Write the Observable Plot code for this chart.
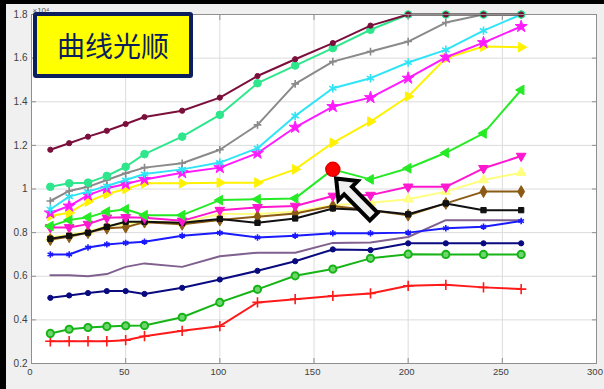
<!DOCTYPE html>
<html>
<head>
<meta charset="utf-8">
<script src="https://cdn.jsdelivr.net/npm/d3@7"></script>
<script src="https://cdn.jsdelivr.net/npm/@observablehq/plot@0.6"></script>
<style>
  html, body { margin: 0; padding: 0; background: #f0f0f0; }
  #fig { position: relative; width: 604px; height: 389px; overflow: hidden; background: #f0f0f0; }
  #fig svg { position: absolute; left: 0; top: 0; }
  .edge-top { position: absolute; left: 0; top: 0; width: 604px; height: 4px; background: #000; }
  .edge-left { position: absolute; left: 0; top: 0; width: 6px; height: 389px; background: #000; }
  .badge {
    position: absolute; left: 33px; top: 12px; width: 152px; height: 58px;
    background: #ffff00; border: 4px solid #0c1f5c; border-radius: 3px;
    display: flex; align-items: center; justify-content: center;
    font-family: "Noto Sans CJK SC", sans-serif; font-size: 28px; color: #0c1f5c;
  }
</style>
</head>
<body>
<div id="fig"></div>
<script>
// sample positions along the x axis
const xs = [10, 20, 30, 40, 50, 60, 80, 100, 120, 140, 160, 180, 200, 220, 240, 260];

// curves (values in units of 10^4)
const wine        = [1.18, 1.21, 1.24, 1.267, 1.298, 1.33, 1.359, 1.419, 1.518, 1.595, 1.669, 1.749, 1.80, 1.80, 1.80, 1.80];
const spring      = [1.01, 1.026, 1.029, 1.06, 1.102, 1.16, 1.24, 1.34, 1.485, 1.566, 1.646, 1.73, 1.80, 1.80, 1.80, 1.80];
const grey        = [0.945, 0.991, 1.01, 1.041, 1.072, 1.098, 1.118, 1.18, 1.294, 1.482, 1.584, 1.63, 1.676, 1.763, 1.80, 1.80];
const cyan        = [0.907, 0.965, 0.988, 1.014, 1.041, 1.069, 1.09, 1.121, 1.187, 1.335, 1.462, 1.508, 1.58, 1.638, 1.726, 1.80];
const magentaStar = [0.89, 0.922, 0.972, 1.003, 1.023, 1.044, 1.075, 1.098, 1.164, 1.283, 1.378, 1.419, 1.508, 1.604, 1.671, 1.745];
const yellowRight = [0.876, 0.891, 0.942, 0.977, 1.0, 1.026, 1.026, 1.029, 1.029, 1.09, 1.212, 1.309, 1.424, 1.60, 1.653, 1.65];
const greenLeft   = [0.83, 0.858, 0.87, 0.896, 0.907, 0.88, 0.88, 0.949, 0.953, 0.957, 1.09, 1.044, 1.095, 1.166, 1.255, 1.454];
const pinkDown    = [0.824, 0.824, 0.839, 0.868, 0.87, 0.868, 0.854, 0.903, 0.916, 0.922, 0.968, 0.972, 1.01, 1.01, 1.095, 1.151];
const paleYellow  = [0.778, 0.79, 0.805, 0.83, 0.84, 0.852, 0.845, 0.885, 0.885, 0.896, 0.926, 0.937, 0.953, 0.988, 1.041, 1.075];
const brown       = [0.768, 0.781, 0.80, 0.82, 0.825, 0.848, 0.838, 0.858, 0.873, 0.888, 0.922, 0.903, 0.88, 0.934, 0.988, 0.988];
const black       = [0.772, 0.786, 0.80, 0.827, 0.85, 0.85, 0.845, 0.863, 0.845, 0.865, 0.911, 0.903, 0.884, 0.934, 0.903, 0.903];
const blue        = [0.70, 0.70, 0.732, 0.746, 0.753, 0.758, 0.786, 0.799, 0.778, 0.786, 0.797, 0.797, 0.80, 0.82, 0.827, 0.853];
const purple      = [0.605, 0.605, 0.60, 0.61, 0.643, 0.659, 0.643, 0.692, 0.708, 0.708, 0.753, 0.755, 0.78, 0.857, 0.857, 0.857];
const navy        = [0.501, 0.512, 0.523, 0.532, 0.532, 0.519, 0.547, 0.585, 0.625, 0.669, 0.723, 0.72, 0.751, 0.751, 0.751, 0.751];
const green       = [0.338, 0.357, 0.365, 0.37, 0.373, 0.374, 0.412, 0.48, 0.54, 0.602, 0.633, 0.682, 0.701, 0.70, 0.70, 0.70];
const red         = [0.302, 0.302, 0.302, 0.302, 0.307, 0.325, 0.35, 0.371, 0.48, 0.495, 0.51, 0.521, 0.556, 0.561, 0.549, 0.541];

// axis ticks
const xTicks = [0, 50, 100, 150, 200, 250, 300];
const yTicks = [0.2, 0.4, 0.6, 0.8, 1, 1.2, 1.4, 1.6, 1.8];

// highlighted sample on the "<" curve, and the pointer aimed at it (tail, tip)
const highlightX = [160];
const pointer = [[182, 0.871], [162, 1.046]];

// drawing order: bottom curve first
const series = [
  {values: red,         color: "#ff1a1a", symbol: "plus",     r: 3.4, stroked: true},
  {values: green,       color: "#16b416", symbol: "circle",   r: 3.6, face: "#6fd66f"},
  {values: navy,        color: "#0a0a80", symbol: "circle",   r: 2.6},
  {values: purple,      color: "#80608e", symbol: null},
  {values: blue,        color: "#1a1aff", symbol: "asterisk", r: 3.0, stroked: true},
  {values: paleYellow,  color: "#ffff80", symbol: "triangle", r: 3.6, rotate: 0},
  {values: brown,       color: "#8b5a14", symbol: "diamond",  r: 3.6},
  {values: black,       color: "#111111", symbol: "square",   r: 3.0},
  {values: pinkDown,    color: "#ff17d0", symbol: "triangle", r: 3.6, rotate: 180},
  {values: greenLeft,   color: "#27ea27", symbol: "triangle", r: 3.6, rotate: -90},
  {values: yellowRight, color: "#fff200", symbol: "triangle", r: 3.6, rotate: 90},
  {values: magentaStar, color: "#ff1aff", symbol: "star",     r: 3.8},
  {values: cyan,        color: "#2fe4f5", symbol: "asterisk", r: 4.0, stroked: true},
  {values: grey,        color: "#8a8a8a", symbol: "plus",     r: 2.6, stroked: true},
  {values: spring,      color: "#2ee68c", symbol: "circle",   r: 3.8},
  {values: wine,        color: "#7b0f3c", symbol: "circle",   r: 2.6}
];

const curveMarks = series.flatMap((s) => {
  const rows = xs.map((x, i) => ({x, y: s.values[i]}));
  const marks = [Plot.line(rows, {x: "x", y: "y", stroke: s.color, strokeWidth: 2})];
  if (s.symbol) {
    marks.push(Plot.dot(rows, {
      x: "x", y: "y", symbol: s.symbol, r: s.r, rotate: s.rotate ?? 0,
      fill: s.stroked ? "none" : (s.face ?? s.color),
      stroke: s.color, strokeWidth: s.stroked ? 1.6 : (s.face ? 2 : 1)
    }));
  }
  return marks;
});

const highlightRows = highlightX.map((x) => ({x, y: greenLeft[xs.indexOf(x)]}));

// fat outlined pointer drawn from the scaled tail/tip positions
function pointerMark(index, scales) {
  const [[x0, y0], [x1, y1]] = pointer.map(([a, b]) => [scales.x(a), scales.y(b)]);
  const len = Math.hypot(x1 - x0, y1 - y0);
  const ux = (x1 - x0) / len, uy = (y1 - y0) / len;
  const nx = -uy, ny = ux;
  const headLen = 17, headHalf = 13.5, shaftHalf = 5.5;
  const bx = x1 - ux * headLen, by = y1 - uy * headLen;
  const pts = [
    [x1, y1],
    [bx + nx * headHalf, by + ny * headHalf],
    [bx + nx * shaftHalf, by + ny * shaftHalf],
    [x0 + nx * shaftHalf, y0 + ny * shaftHalf],
    [x0 - nx * shaftHalf, y0 - ny * shaftHalf],
    [bx - nx * shaftHalf, by - ny * shaftHalf],
    [bx - nx * headHalf, by - ny * headHalf]
  ];
  const g = d3.create("svg:g");
  g.append("path")
    .attr("d", "M" + pts.map((p) => p.join(",")).join("L") + "Z")
    .attr("fill", "#efefef")
    .attr("stroke", "#000")
    .attr("stroke-width", 4)
    .attr("stroke-linejoin", "miter");
  return g.node();
}

const fmt = (d) => String(+d.toFixed(1));

const chart = Plot.plot({
  width: 604,
  height: 389,
  marginLeft: 31,
  marginRight: 8,
  marginTop: 14,
  marginBottom: 26,
  style: {background: "transparent", fontFamily: "'Liberation Sans', Arial, sans-serif", fontSize: "10px"},
  x: {domain: [0, 300]},
  y: {domain: [0.2, 1.8]},
  marks: [
    Plot.frame({fill: "#ffffff", stroke: null}),
    Plot.gridX(xTicks, {stroke: "#dcdcdc", strokeOpacity: 1}),
    Plot.gridY(yTicks, {stroke: "#dcdcdc", strokeOpacity: 1}),
    ...curveMarks,
    Plot.dot(highlightRows, {x: "x", y: "y", r: 7, fill: "#ff0000", stroke: "#e00000"}),
    pointerMark,
    Plot.frame({stroke: "#8f8f8f"}),
    Plot.axisX(xTicks, {anchor: "bottom", tickSize: 0, tickPadding: 5, dx: -1.5, fontSize: 9.5, fill: "#404040", label: null, tickFormat: fmt}),
    Plot.axisY(yTicks, {anchor: "left", tickSize: 0, tickPadding: 4, fill: "#404040", label: null, tickFormat: fmt}),
    Plot.axisX(xTicks, {anchor: "bottom", tickSize: -5, fill: "none", stroke: "#8f8f8f", label: null}),
    Plot.axisX(xTicks, {anchor: "top", tickSize: -5, fill: "none", stroke: "#8f8f8f", label: null}),
    Plot.axisY(yTicks, {anchor: "left", tickSize: -5, fill: "none", stroke: "#8f8f8f", label: null}),
    Plot.axisY(yTicks, {anchor: "right", tickSize: -5, fill: "none", stroke: "#8f8f8f", label: null}),
    Plot.text(["×10⁴"], {frameAnchor: "top-left", dx: 1, dy: -7, textAnchor: "start", fontSize: 8, fill: "#555"})
  ]
});

const fig = document.getElementById("fig");
fig.appendChild(chart);

const badge = document.createElement("div");
badge.className = "badge";
badge.textContent = "曲线光顺";
fig.appendChild(badge);

for (const cls of ["edge-top", "edge-left"]) {
  const bar = document.createElement("div");
  bar.className = cls;
  fig.appendChild(bar);
}
</script>
</body>
</html>
